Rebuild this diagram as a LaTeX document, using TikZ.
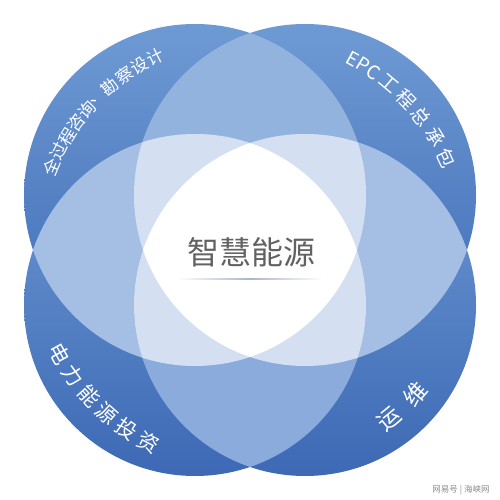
\documentclass[tikz,border=0pt]{standalone}
\usepackage{fontspec}
\newfontfamily\cjk{Noto Sans CJK SC}
\definecolor{darktop}{HTML}{6E9AD4}
\definecolor{darkbot}{HTML}{3D69B5}
\definecolor{medtop}{HTML}{93B3DF}
\definecolor{medside}{HTML}{A5BFE4}
\definecolor{medbot}{HTML}{8AABDB}
\definecolor{lightreg}{HTML}{D4E0F2}
\definecolor{centertext}{HTML}{626262}
\definecolor{rulecol}{HTML}{AEB3CD}
\tikzset{
  band/.style={text=white, inner sep=0pt, anchor=center},
  ctext/.style={text=centertext, inner sep=0pt, font=\cjk\fontsize{32}{32}\selectfont},
}
\begin{document}
\begin{tikzpicture}[x=1pt,y=1pt]
\useasboundingbox (0,0) rectangle (500,500);
\fill[white] (0,0) rectangle (500,500);
\coordinate (O) at (250,250);
\coordinate (cTL) at (195,305);
\coordinate (cTR) at (305,305);
\coordinate (cBL) at (195,195);
\coordinate (cBR) at (305,195);
% single circles (dark bands)
\foreach \c in {cTL,cTR,cBL,cBR}{
  \shade[top color=darktop, bottom color=darkbot] (\c) circle (171pt);
}
% exactly two (adjacent lenses)
\begin{scope}\clip (cTL) circle (171pt); \fill[medtop] (cTR) circle (171pt);\end{scope}
\begin{scope}\clip (cTL) circle (171pt); \fill[medside] (cBL) circle (171pt);\end{scope}
\begin{scope}\clip (cTR) circle (171pt); \fill[medside] (cBR) circle (171pt);\end{scope}
\begin{scope}\clip (cBL) circle (171pt); \fill[medbot] (cBR) circle (171pt);\end{scope}
% three
\begin{scope}\clip (cTL) circle (171pt); \clip (cTR) circle (171pt); \fill[lightreg] (cBL) circle (171pt);\end{scope}
\begin{scope}\clip (cTL) circle (171pt); \clip (cTR) circle (171pt); \fill[lightreg] (cBR) circle (171pt);\end{scope}
\begin{scope}\clip (cBL) circle (171pt); \clip (cBR) circle (171pt); \fill[lightreg] (cTL) circle (171pt);\end{scope}
\begin{scope}\clip (cBL) circle (171pt); \clip (cBR) circle (171pt); \fill[lightreg] (cTR) circle (171pt);\end{scope}
% four
\begin{scope}\clip (cTL) circle (171pt); \clip (cTR) circle (171pt); \clip (cBL) circle (171pt); \fill[white] (cBR) circle (171pt);\end{scope}
% center text
\node[ctext] (center) at (251,248) {智慧能源};
\shade[left color=white, right color=white, middle color=rulecol] (177,220.2) rectangle (323,221.8);
% curved labels
\begin{scope}[shift={(250,250)}]
\foreach \a/\ch [count=\i] in {157.2/全,152.7/过,148.2/程,143.7/咨,139.3/询,135.0/、,130.6/勘,125.8/察,121.0/设,116.2/计}{
  \node[band, font=\cjk\fontsize{17}{17}\selectfont, rotate=\a-90] (tl\i) at (\a:215pt) {\ch};
}
\foreach \a/\ch [count=\i] in {61.6/E,58.4/P,55.2/C,50.0/工,44.0/程,37.8/总,31.5/承,25.2/包}{
  \node[band, font=\cjk\fontsize{19}{19}\selectfont, rotate=\a-90] (tr\i) at (\a:217pt) {\ch};
}
\foreach \a/\ch [count=\i] in {208.7/电,215.4/力,222.1/能,228.8/源,235.5/投,242.2/资}{
  \node[band, font=\cjk\fontsize{21}{21}\selectfont, rotate=\a+90] (bl\i) at (\a:217pt) {\ch};
}
\foreach \a/\ch [count=\i] in {-50.5/运,-41/维}{
  \node[band, font=\cjk\fontsize{23}{23}\selectfont, rotate=\a+90] (br\i) at (\a:219pt) {\ch};
}
\end{scope}
\node[text=black!45, inner sep=0pt, font=\cjk\fontsize{8.5}{8.5}\selectfont] (wm) at (461,10) {网易号 | 海峡网};
\end{tikzpicture}
\end{document}
